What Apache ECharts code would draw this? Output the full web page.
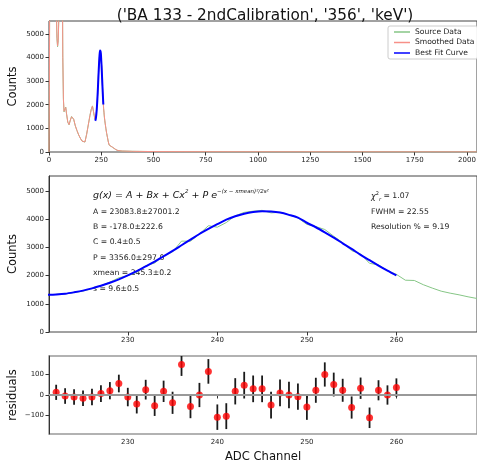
<!DOCTYPE html>
<html>
<head>
<meta charset="utf-8">
<script src="https://cdn.jsdelivr.net/npm/echarts@6/dist/echarts.min.js"></script>
<style>
  html, body { margin: 0; padding: 0; background: #fff; }
  #chart { width: 477px; height: 463px; }
</style>
</head>
<body>
<div id="chart"></div>
<script>
// full spectrum, low part (channels 0..220)
var lowChannels = [0, 2, 4, 30, 34, 38, 41, 44, 48, 52, 60, 63, 66, 69, 72, 76, 80, 84, 90, 96, 102, 108, 112, 118, 126, 134, 142, 150, 158, 166, 172, 180, 188, 196, 202, 208, 212, 216, 220];
var lowCounts = [0, 3000, 9000, 9000, 6500, 4800, 4450, 4700, 6000, 9000, 12000, 9000, 4000, 2200, 1700, 1780, 1900, 1600, 1250, 1150, 1350, 1500, 1560, 1380, 1100, 900, 720, 580, 460, 380, 420, 750, 1150, 1550, 1800, 1950, 1880, 1550, 1380];

// fit region, channels 222..260
var fitChannels = [222, 223, 224, 225, 226, 227, 228, 229, 230, 231, 232, 233, 234, 235, 236, 237, 238, 239, 240, 241, 242, 243, 244, 245, 246, 247, 248, 249, 250, 251, 252, 253, 254, 255, 256, 257, 258, 259, 260];
var sourceCounts = [1343, 1355, 1400, 1454, 1540, 1647, 1771, 1926, 2000, 2116, 2356, 2448, 2708, 2842, 3228, 3224, 3480, 3775, 3722, 3887, 4128, 4248, 4290, 4320, 4231, 4250, 4160, 4052, 3821, 3743, 3640, 3401, 3173, 2889, 2773, 2439, 2383, 2180, 2046];
var residuals = [13, -5, -10, -16, -10, 7, 21, 56, -10, -44, 26, -52, 18, -38, 148, -56, 0, 115, -108, -103, 18, 48, 30, 30, -49, 10, 0, -8, -59, 23, 100, 51, 23, -61, 33, -111, 23, 0, 36];
var residualErrors = [37, 38, 38, 38, 40, 41, 42, 43, 45, 46, 48, 50, 52, 54, 55, 57, 59, 60, 62, 63, 64, 65, 65, 65, 65, 65, 64, 64, 62, 61, 59, 58, 56, 54, 52, 50, 49, 47, 45];

// best fit curve, channels 221..260
var curveChannels = [221, 222, 223, 224, 225, 226, 227, 228, 229, 230, 231, 232, 233, 234, 235, 236, 237, 238, 239, 240, 241, 242, 243, 244, 245, 246, 247, 248, 249, 250, 251, 252, 253, 254, 255, 256, 257, 258, 259, 260];
var curveCounts = [1320, 1335, 1360, 1410, 1470, 1550, 1640, 1750, 1870, 2010, 2160, 2330, 2500, 2690, 2880, 3080, 3280, 3480, 3660, 3830, 3990, 4110, 4200, 4260, 4290, 4280, 4240, 4160, 4060, 3880, 3720, 3540, 3350, 3150, 2950, 2740, 2550, 2360, 2180, 2010];

// after the peak
var tailChannels = [261, 262, 263, 264, 265, 266, 267, 268, 269, 270];
var tailCounts = [1840, 1830, 1680, 1560, 1450, 1380, 1320, 1250, 1190, 1150];
var highChannels = [272, 276, 280, 284, 288, 296, 304, 312, 320, 330, 350, 400, 500, 750, 1000, 1500, 2047];
var highCounts = [1000, 780, 600, 420, 290, 240, 200, 160, 100, 60, 40, 28, 18, 12, 9, 6, 4];

// smoothed spectrum
var smoothChannels = [0, 2, 4, 30, 34, 38, 41, 44, 48, 52, 60, 63, 66, 69, 72, 76, 80, 84, 90, 96, 102, 108, 112, 118, 126, 134, 142, 150, 158, 166, 172, 180, 188, 196, 202, 208, 212, 216, 220, 224, 228, 232, 236, 240, 244, 248, 252, 256, 260, 264, 268, 272, 276, 280, 284, 288, 296, 304, 312, 320, 330, 350, 400, 500, 750, 1000, 1500, 2047];
var smoothCounts = [0, 2800, 9000, 9000, 6600, 4850, 4480, 4720, 6000, 9000, 12000, 9000, 4100, 2250, 1720, 1770, 1880, 1620, 1270, 1160, 1340, 1490, 1550, 1390, 1110, 905, 725, 585, 465, 385, 425, 740, 1140, 1540, 1790, 1940, 1870, 1560, 1390, 1430, 1760, 2300, 3110, 3810, 4270, 4170, 3620, 2740, 2030, 1580, 1270, 1010, 790, 605, 425, 295, 240, 200, 160, 102, 62, 41, 28, 18, 12, 9, 6, 4];

// ticks
var spectrumTicks = [0, 250, 500, 750, 1000, 1250, 1500, 1750, 2000];
var countTicks = [0, 1000, 2000, 3000, 4000, 5000];
var channelTicks = [230, 240, 250, 260];
var residualTicks = [-100, 0, 100];

var FONT = 'DejaVu Sans';
var GREEN = '#86c686';
var RED = '#f79088';

function pairs(xs, ys) {
  var out = [];
  for (var i = 0; i < xs.length; i++) out.push([xs[i], ys[i]]);
  return out;
}

var sourceAll = pairs(lowChannels, lowCounts)
  .concat(pairs(fitChannels, sourceCounts))
  .concat(pairs(tailChannels, tailCounts))
  .concat(pairs(highChannels, highCounts));
var sourceZoom = pairs(fitChannels, sourceCounts).concat(pairs(tailChannels, tailCounts));
var fitLine = pairs(curveChannels, curveCounts);
var resid = [];
for (var i = 0; i < fitChannels.length; i++) resid.push([fitChannels[i], residuals[i], residualErrors[i]]);

var myChart = echarts.init(document.getElementById('chart'));

// plain numbers, no thousands separators
function plain(v) { return String(v).replace('-', '\u2212'); }

function xAxis(grid, min, max, ticks, name) {
  return {
    type: 'value', gridIndex: grid, min: min, max: max,
    name: name || '', nameLocation: 'middle', nameGap: 17, nameMoveOverlap: false,
    nameTextStyle: { fontFamily: FONT, fontSize: 11.6, color: '#111' },
    axisLine: { show: false },
    axisTick: { show: true, length: 3.5, customValues: ticks, lineStyle: { color: '#333' } },
    axisLabel: { customValues: ticks, formatter: plain, fontFamily: FONT, fontSize: 7, color: '#222', margin: 5 },
    splitLine: { show: false }
  };
}
function yAxis(grid, min, max, ticks, name, gap) {
  return {
    type: 'value', gridIndex: grid, min: min, max: max,
    name: name, nameLocation: 'middle', nameGap: gap, nameRotate: 90, nameMoveOverlap: false,
    nameTextStyle: { fontFamily: FONT, fontSize: 11.5, color: '#111' },
    axisLine: { show: true, lineStyle: { color: '#333', width: 1 } },
    axisTick: { show: true, length: 3.5, customValues: ticks, lineStyle: { color: '#333' } },
    axisLabel: { customValues: ticks, formatter: plain, fontFamily: FONT, fontSize: 7, color: '#222', margin: 5 },
    splitLine: { show: false }
  };
}
function grid(top, height, border, bw) {
  return {
    left: 49, top: top, width: 428, height: height,
    containLabel: false, outerBoundsMode: 'none',
    show: true, borderColor: border, borderWidth: bw, backgroundColor: 'transparent'
  };
}

var option = {
  animation: false,
  backgroundColor: '#fff',
  title: {
    text: "('BA 133 - 2ndCalibration', '356', 'keV')",
    left: 260, top: 4, textAlign: 'center',
    textStyle: { fontFamily: FONT, fontSize: 15.3, fontWeight: 'normal', color: '#111' }
  },
  legend: {
    left: 388, top: 26, orient: 'vertical',
    itemWidth: 16, itemHeight: 1.5, itemGap: 2.5,
    padding: [2, 3, 2, 6],
    borderColor: '#ccc', borderWidth: 1, borderRadius: 2,
    backgroundColor: '#fff',
    textStyle: { fontFamily: FONT, fontSize: 7.6, color: '#222' },
    data: [
      { name: 'Source Data', icon: 'rect', itemStyle: { color: GREEN } },
      { name: 'Smoothed Data', icon: 'rect', itemStyle: { color: RED } },
      { name: 'Best Fit Curve', icon: 'rect', itemStyle: { color: '#0000ff' } }
    ]
  },
  grid: [
    grid(21, 131, '#444', 1),
    grid(176, 156, '#444', 1),
    grid(356, 78, '#999', 1.5)
  ],
  xAxis: [
    xAxis(0, 0, 2048, spectrumTicks),
    xAxis(1, 221.2, 269, channelTicks),
    xAxis(2, 221.2, 269, channelTicks, 'ADC Channel')
  ],
  yAxis: [
    yAxis(0, 0, 5540, countTicks, 'Counts', 30),
    yAxis(1, 0, 5540, countTicks, 'Counts', 30),
    yAxis(2, -190, 190, residualTicks, 'residuals', 30)
  ],
  graphic: [
    {
      type: 'text', left: 93, top: 189,
      style: {
        text: '{m|g(x) = A + Bx + Cx}{s|2}{m| + P e}{s|\u2212(x \u2212 xmean)\u00b2/2s\u00b2}',
        rich: {
          m: { fontFamily: FONT, fontStyle: 'italic', fontSize: 9.5, fill: '#111', lineHeight: 13 },
          s: { fontFamily: FONT, fontStyle: 'italic', fontSize: 5.5, fill: '#111', verticalAlign: 'top', lineHeight: 13 }
        }
      }
    },
    { type: 'text', left: 93, top: 208, style: { text: 'A = 23083.8\u00b127001.2', font: '7.7px "DejaVu Sans"', fill: '#222' } },
    { type: 'text', left: 93, top: 223.5, style: { text: 'B = -178.0\u00b1222.6', font: '7.7px "DejaVu Sans"', fill: '#222' } },
    { type: 'text', left: 93, top: 238.5, style: { text: 'C = 0.4\u00b10.5', font: '7.7px "DejaVu Sans"', fill: '#222' } },
    { type: 'text', left: 93, top: 254, style: { text: 'P = 3356.0\u00b1297.0', font: '7.7px "DejaVu Sans"', fill: '#222' } },
    { type: 'text', left: 93, top: 269.5, style: { text: 'xmean = 245.3\u00b10.2', font: '7.7px "DejaVu Sans"', fill: '#222' } },
    { type: 'text', left: 93, top: 285, style: { text: 's = 9.6\u00b10.5', font: '7.7px "DejaVu Sans"', fill: '#222' } },
    {
      type: 'text', left: 371, top: 191,
      style: {
        text: '{m|\u03c7}{s|2}{b|r}{n| = 1.07}',
        rich: {
          m: { fontFamily: FONT, fontStyle: 'italic', fontSize: 8, fill: '#222', lineHeight: 11 },
          s: { fontFamily: FONT, fontSize: 5, fill: '#222', verticalAlign: 'top', lineHeight: 11 },
          b: { fontFamily: FONT, fontStyle: 'italic', fontSize: 5, fill: '#222', verticalAlign: 'bottom', lineHeight: 11 },
          n: { fontFamily: FONT, fontSize: 7.7, fill: '#222', lineHeight: 11 }
        }
      }
    },
    { type: 'text', left: 371, top: 208, style: { text: 'FWHM = 22.55', font: '7.7px "DejaVu Sans"', fill: '#222' } },
    { type: 'text', left: 371, top: 223.5, style: { text: 'Resolution % = 9.19', font: '7.7px "DejaVu Sans"', fill: '#222' } }
  ],
  series: [
    {
      name: 'Source Data', type: 'line', xAxisIndex: 0, yAxisIndex: 0,
      data: sourceAll, showSymbol: false, clip: true,
      lineStyle: { color: GREEN, width: 1 }, itemStyle: { color: GREEN }
    },
    {
      name: 'Smoothed Data', type: 'line', xAxisIndex: 0, yAxisIndex: 0,
      data: pairs(smoothChannels, smoothCounts), showSymbol: false, clip: true,
      lineStyle: { color: RED, width: 1 }, itemStyle: { color: RED }
    },
    {
      name: 'Best Fit Curve', type: 'line', xAxisIndex: 0, yAxisIndex: 0,
      data: fitLine, showSymbol: false, smooth: 0.3, clip: true,
      lineStyle: { color: '#0000ff', width: 2 }, itemStyle: { color: '#0000ff' }
    },
    {
      name: 'Source Data', type: 'line', xAxisIndex: 1, yAxisIndex: 1,
      data: sourceZoom, showSymbol: false, clip: true,
      lineStyle: { color: GREEN, width: 1 }
    },
    {
      name: 'Best Fit Curve', type: 'line', xAxisIndex: 1, yAxisIndex: 1,
      data: fitLine, showSymbol: false, smooth: 0.3, clip: true,
      lineStyle: { color: '#0000ff', width: 2 }
    },
    {
      type: 'custom', xAxisIndex: 2, yAxisIndex: 2, clip: true,
      data: resid,
      renderItem: function (params, api) {
        var x = api.value(0), y = api.value(1), e = api.value(2);
        var p1 = api.coord([x, y + e]);
        var p2 = api.coord([x, y - e]);
        return {
          type: 'line',
          shape: { x1: p1[0], y1: p1[1], x2: p2[0], y2: p2[1] },
          style: { stroke: '#1a1a1a', lineWidth: 1.8 }
        };
      },
      z: 3
    },
    {
      type: 'scatter', xAxisIndex: 2, yAxisIndex: 2,
      data: resid, symbolSize: 7,
      itemStyle: { color: '#ff0000' }, z: 4,
      markLine: {
        silent: true, symbol: 'none', label: { show: false },
        lineStyle: { color: '#999', width: 2, type: 'solid' },
        data: [{ yAxis: 0 }]
      }
    }
  ]
};

myChart.setOption(option);
</script>
</body>
</html>
